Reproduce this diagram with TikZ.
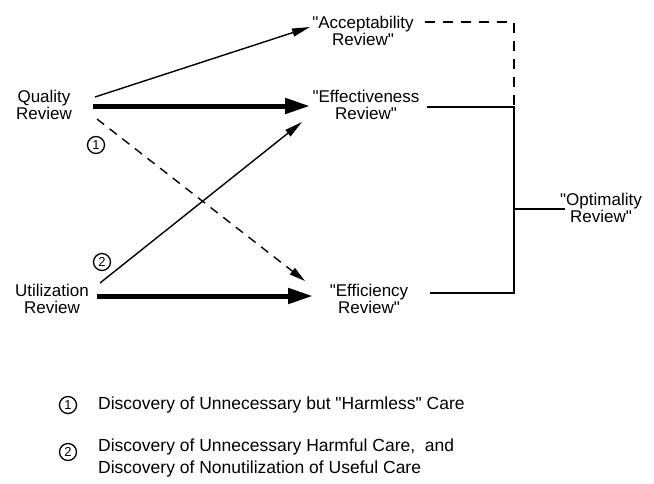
\documentclass[tikz,border=0pt]{standalone}
\usepackage{fontspec}
\setmainfont{Liberation Sans}
\usetikzlibrary{arrows.meta}
\newcommand{\qm}{\textquotedbl}
\begin{document}
\begin{tikzpicture}[x=1pt,y=-1pt,
  lbl/.style={align=center,font=\fontsize{17}{17}\selectfont,inner sep=0pt},
  thinarrow/.style={line width=1.4pt,-{Triangle[length=18pt,width=8pt]}},
  heavyarrow/.style={line width=5pt,-{Triangle[length=25pt,width=15pt]}},
  dasharrow/.style={line width=1.4pt,dash pattern=on 9pt off 7pt,-{Triangle[length=16pt,width=8pt]}},
  dashline/.style={line width=1.4pt,dash pattern=on 10pt off 8pt},
  wire/.style={line width=1.4pt},
  num/.style={circle,draw,line width=1.3pt,minimum size=17pt,inner sep=0pt,font=\fontsize{13}{13}\selectfont},
  legend/.style={anchor=west,align=left,font=\fontsize{17.5}{22}\selectfont,inner sep=0pt}]
\useasboundingbox (0,0) rectangle (654,483);

% review types
\node[lbl] (q)    at (44,105)  {Quality\\Review};
\node[lbl] (u)    at (52,299)  {Utilization\\Review};
\node[lbl] (acc)  at (363,31)  {\qm Acceptability\\Review\qm};
\node[lbl] (eff)  at (366,105) {\qm Effectiveness\\Review\qm};
\node[lbl] (effi) at (369,299) {\qm Efficiency\\Review\qm};
\node[lbl] (opt)  at (601,208) {\qm Optimality\\Review\qm};

% arrow end points next to the labels
\coordinate (qa) at ([shift={(51,-8)}]q.center);
\coordinate (qb) at ([shift={(49,1)}]q.center);
\coordinate (qc) at ([shift={(53,14)}]q.center);
\coordinate (ua) at ([shift={(48,-16)}]u.center);
\coordinate (ub) at ([shift={(45,-3)}]u.center);
\coordinate (acc-in)  at ([shift={(-53,-4)}]acc.center);
\coordinate (eff-in)  at ([shift={(-56,1)}]eff.center);
\coordinate (eff-low) at ([shift={(-64,17)}]eff.center);
\coordinate (effi-in) at ([shift={(-56,-3)}]effi.center);
\coordinate (effi-up) at ([shift={(-64,-18)}]effi.center);

\draw[thinarrow]  (qa) -- (acc-in);
\draw[heavyarrow] (qb) -- (eff-in);
\draw[dasharrow]  (qc) -- (effi-up);
\draw[thinarrow]  (ua) -- (eff-low);
\draw[heavyarrow] (ub) -- (effi-in);

% circled markers on the diagonals
\node[num] (m1) at (96,145)  {1};
\node[num] (m2) at (102,262) {2};

% joins towards the optimality review
\coordinate (acc-out)  at ([shift={(62,-9)}]acc.center);
\coordinate (eff-out)  at ([shift={(61,2)}]eff.center);
\coordinate (effi-out) at ([shift={(61,-6)}]effi.center);
\coordinate (jt) at (514,22);
\coordinate (jm) at (514,107);
\coordinate (jb) at (514,293);
\coordinate (jo) at (514,209);
\coordinate (opt-in) at ([shift={(-36,1)}]opt.center);

\draw[dashline] (acc-out) -- (jt) -- (jm);
\draw[wire] (eff-out) -- (jm) -- (jb) -- (effi-out);
\draw[wire] (jo) -- (opt-in);

% legend
\node[num] (k1) at (68,405) {1};
\node[num] (k2) at (68,452) {2};
\node[legend] (t1) at (98,405) {Discovery of Unnecessary but \qm Harmless\qm{} Care};
\node[legend] (t2) at (98,458) {Discovery of Unnecessary Harmful Care,\ \ and\\Discovery of Nonutilization of Useful Care};
\end{tikzpicture}
\end{document}
